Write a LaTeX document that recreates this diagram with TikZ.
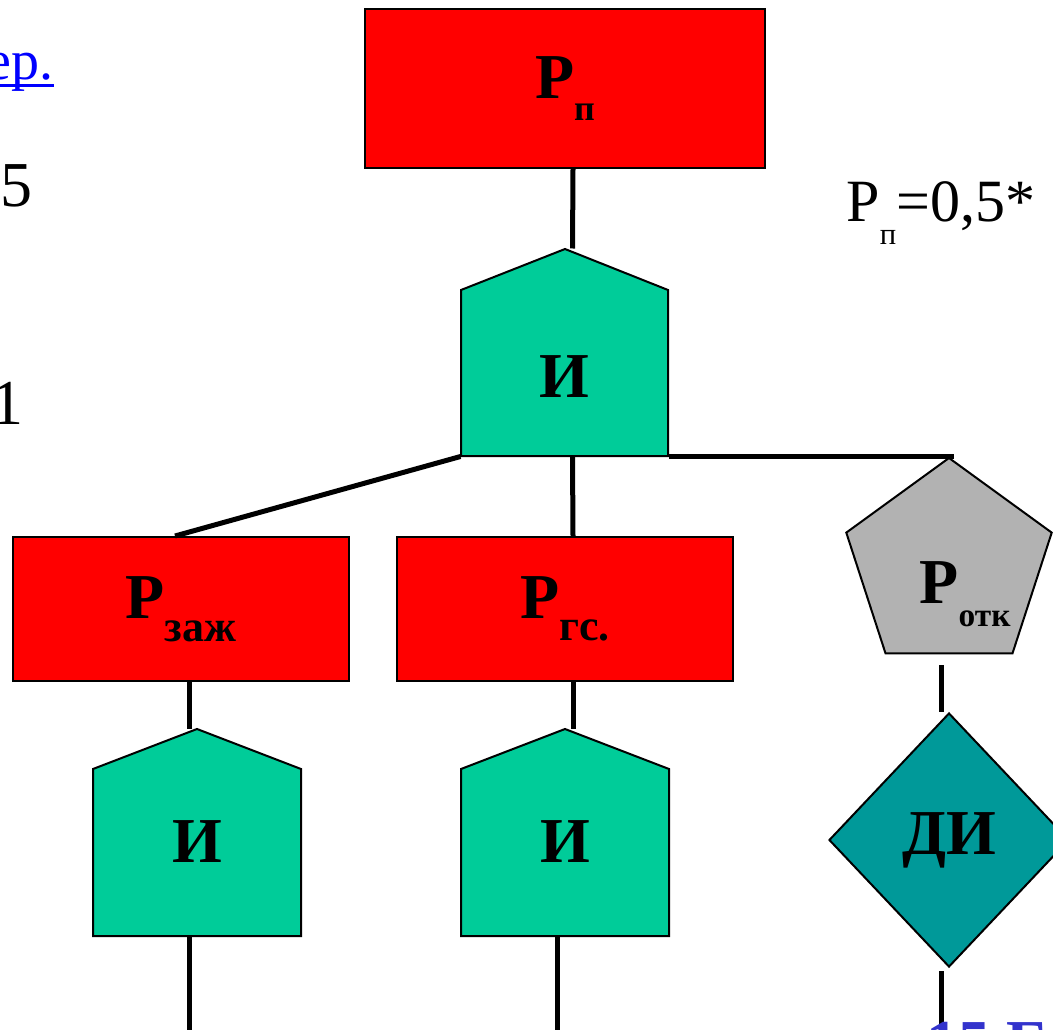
\documentclass[tikz,border=0pt]{standalone}
\usepackage{fontspec}
\setmainfont{Liberation Serif}
\usetikzlibrary{shapes.geometric}

\definecolor{evred}{RGB}{255,0,0}
\definecolor{andgreen}{RGB}{0,204,153}
\definecolor{exgray}{RGB}{178,178,178}
\definecolor{diteal}{RGB}{0,153,153}
\definecolor{linkblue}{RGB}{0,0,255}
\definecolor{pageblue}{RGB}{51,51,204}

\newcommand{\lowsub}[2]{\raisebox{-17pt}{\fontsize{#1}{#1}\selectfont #2}}

\tikzset{every picture/.style={line width=0.75pt}}
\tikzset{
  evbox/.style={draw, fill=evred, line width=1.5pt, inner sep=0pt, font=\bfseries\fontsize{48}{48}\selectfont},
  andgate/.style={inner sep=0pt, minimum width=155.25pt, minimum height=155.25pt},
  andshape/.style={draw, fill=andgreen, line width=1.5pt},
  gatetext/.style={font=\bfseries\fontsize{48}{48}\selectfont, inner sep=0pt},
  exbox/.style={draw, fill=exgray, line width=1.5pt, regular polygon, regular polygon sides=5, minimum size=162pt, inner sep=0pt},
  dibox/.style={draw, fill=diteal, line width=1.5pt, diamond, minimum width=180pt, minimum height=190.5pt, inner sep=0pt, font=\bfseries\fontsize{48}{48}\selectfont},
  conn/.style={line width=3.75pt},
  sidetext/.style={font=\fontsize{48}{48}\selectfont, inner sep=0pt}
}

\begin{document}
\begin{tikzpicture}[x=0.75pt,y=0.75pt,yscale=-1,xscale=1]
\useasboundingbox (0,0) rectangle (1053,1030);

%Shape: Rectangle
\node[evbox, minimum width=300pt, minimum height=119.25pt] (pn) at (565,88.5) {Р\lowsub{27}{п}};
%Shape: House
\draw[andshape] (461,456) -- (461,290) -- (565,249) -- (668,290) -- (668,456) -- cycle ;
\node[andgate, label={[gatetext, yshift=-18pt]center:И}] (and1) at (564.5,352.5) {};

%Shape: Rectangle
\node[evbox, minimum width=252pt, minimum height=108pt] (zaj) at (181,609) {Р\lowsub{33}{заж}};
%Shape: Rectangle
\node[evbox, minimum width=252pt, minimum height=108pt] (gs) at (565,609) {Р\lowsub{33}{гс.}};
%Shape: Regular Polygon
\node[exbox, label={[gatetext, xshift=12pt, yshift=-21pt]center:Р\lowsub{25}{отк}}] (otk) at (949,566) {};

%Shape: House
\draw[andshape] (93,936) -- (93,769) -- (197,729) -- (301,769) -- (301,936) -- cycle ;
\node[andgate, label={[gatetext, yshift=-6.5pt]center:И}] (and2) at (197,832.5) {};
%Shape: House
\draw[andshape] (461,936) -- (461,769) -- (565,729) -- (669,769) -- (669,936) -- cycle ;
\node[andgate, label={[gatetext, yshift=-6.5pt]center:И}] (and3) at (565,832.5) {};
%Shape: Diamond
\node[dibox] (di) at (949,840) {ДИ};

%Straight Lines
\draw[conn] ([xshift=6pt]pn.south) -- ([xshift=6pt]and1.north) ;
\draw[conn] (and1.south west) -- ([xshift=-4.5pt]zaj.north) ;
\draw[conn] ([xshift=6pt]and1.south) -- ([xshift=6pt]gs.north) ;
\draw[conn] (and1.south east) -- ([xshift=4pt]otk.corner 1 |- and1.south east) ;
\draw[conn] ([xshift=6pt]zaj.south) -- ([xshift=-6pt]and2.north) ;
\draw[conn] ([xshift=6pt]gs.south) -- ([xshift=6pt]and3.north) ;
\draw[conn] ([xshift=-6pt]and2.south) -- ++(0,100) ;
\draw[conn] ([xshift=-6pt]and3.south) -- ++(0,100) ;
\draw[conn] ([xshift=-6pt]otk.south) ++(0,11) -- ([xshift=-6pt]di.north) ;
\draw[conn] ([xshift=-6pt]di.south) ++(0,3) -- ++(0,100) ;

%Text
\node[anchor=base west, inner sep=0pt, font=\fontsize{45}{45}\selectfont] (pnote) at (846,222) {Р\lowsub{23}{п}=0,5*};
\node[anchor=base east, inner sep=0pt, text=linkblue, font=\fontsize{42}{42}\selectfont] (link) at (54,80) {ер.};
\draw[linkblue, line width=2.25pt] ([yshift=4pt]link.base west) -- ([yshift=4pt]link.base east) ;
\node[sidetext, anchor=base east] (v1) at (33,207) {5};
\node[sidetext, anchor=base east] (v2) at (4,316) {2};
\node[sidetext, anchor=base east] (v3) at (24,425) {1};
\node[anchor=base west, inner sep=0pt, text=pageblue, font=\bfseries\fontsize{48}{48}\selectfont] (pg) at (926,1064) {15 Б};

\end{tikzpicture}
\end{document}
